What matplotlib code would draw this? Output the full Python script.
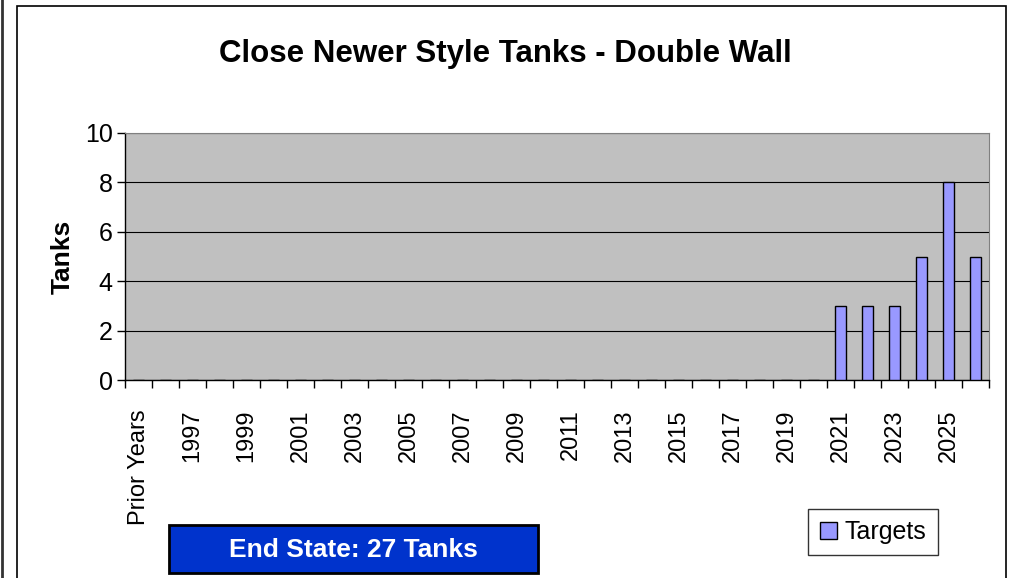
import numpy as np
import matplotlib.pyplot as plt
from matplotlib.patches import Rectangle
from matplotlib.lines import Line2D

plt.rcParams['font.family'] = ['Liberation Sans', 'DejaVu Sans']

# 数据
categories = ['Prior Years'] + [str(y) for y in range(1996, 2027)]
targets = [0, 0, 0, 0, 0, 0, 0, 0, 0, 0,
           0, 0, 0, 0, 0, 0, 0, 0, 0, 0,
           0, 0, 0, 0, 0, 0, 3, 3, 3, 5, 8, 5]

W, H = 1013, 578
fig = plt.figure(figsize=(W / 100, H / 100), dpi=100)

# 外框
fig.patches.append(Rectangle((17 / W, -0.1), (1006 - 17) / W, (H - 6) / H + 0.1,
                             transform=fig.transFigure, fill=False,
                             edgecolor='black', linewidth=1.2))
fig.lines.append(Line2D([1.5 / W, 1.5 / W], [0, 1], transform=fig.transFigure,
                        color='#333333', linewidth=2))

ax = fig.add_axes([125 / W, (H - 380) / H, (989 - 125) / W, (380 - 133) / H])
ax.set_facecolor('#C0C0C0')
x = np.arange(len(categories))
ax.bar(x, targets, width=0.4, color='#9999FF', edgecolor='black', linewidth=1,
       label='Targets', zorder=3)

ax.set_xlim(-0.5, len(categories) - 0.5)
ax.set_ylim(0, 10)
ax.set_yticks(range(0, 11, 2))
ax.yaxis.grid(True, color='black', linewidth=0.8, zorder=1)
ax.set_axisbelow(True)

# x轴刻度: 每隔一个显示标签
ax.set_xticks(x[::2])
ax.set_xticklabels(categories[::2], rotation=90, fontsize=17)
ax.set_xticks(np.arange(-0.5, len(categories), 1), minor=True)
ax.tick_params(axis='x', which='major', length=0, pad=21)
ax.tick_params(axis='x', which='minor', length=6, direction='out', width=1)
ax.tick_params(axis='y', length=6, direction='out', labelsize=18, width=1, pad=3)

for s in ['top', 'right']:
    ax.spines[s].set_color('#808080')
for s in ['left', 'bottom']:
    ax.spines[s].set_color('black')
    ax.spines[s].set_linewidth(1)

ax.set_ylabel('Tanks', fontsize=19, fontweight='bold', labelpad=7)
fig.text(505 / W, 1 - 54 / H, 'Close Newer Style Tanks - Double Wall',
         ha='center', va='center', fontsize=22.5, fontweight='bold')

# 图例
leg = fig.legend(loc='center', bbox_to_anchor=(873 / W, 1 - 532 / H), fontsize=18,
                 frameon=True, fancybox=False, edgecolor='black', handlelength=0.7,
                 handleheight=0.7, handletextpad=0.3, borderpad=0.45)
leg.get_frame().set_linewidth(1)

# 蓝色文本框
fig.patches.append(Rectangle((169 / W, 1 - 573 / H), (538 - 169) / W, 48 / H,
                             transform=fig.transFigure, facecolor='#0033CC',
                             edgecolor='black', linewidth=2))
fig.text(353 / W, 1 - 550 / H, 'End State: 27 Tanks', ha='center', va='center',
         fontsize=19, fontweight='bold', color='white')

plt.savefig('out.png', dpi=100)
